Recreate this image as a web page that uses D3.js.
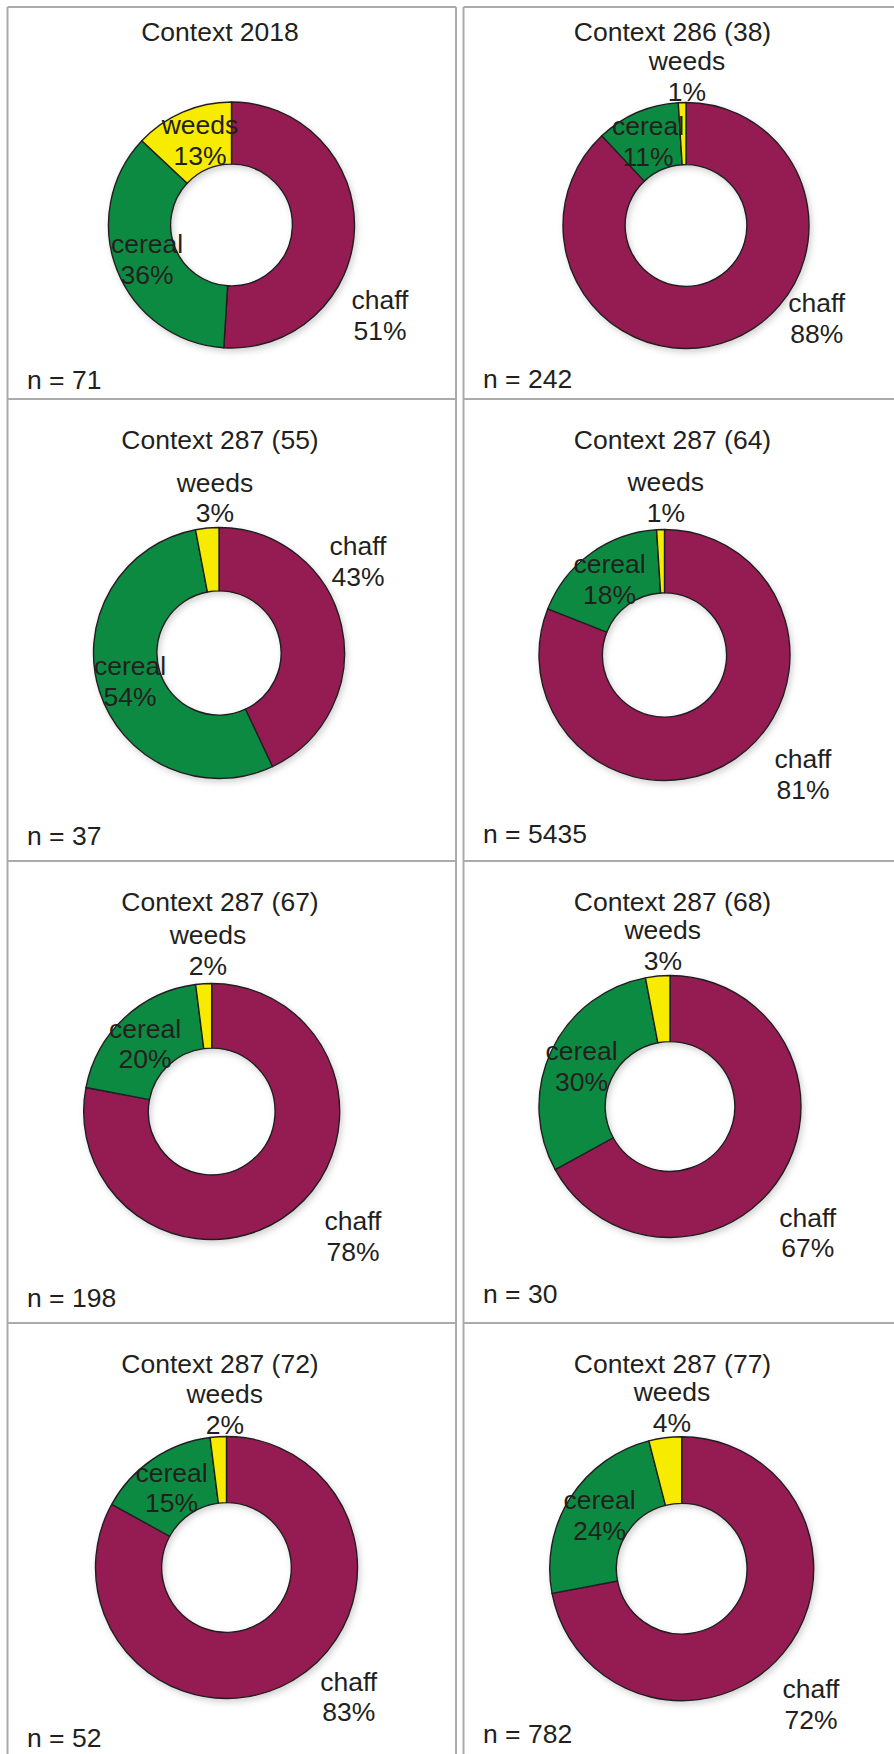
<!DOCTYPE html>
<html>
<head>
<meta charset="utf-8">
<script src="https://cdn.jsdelivr.net/npm/d3@7"></script>
<style>
  html, body { margin: 0; padding: 0; background: #fff; }
  svg { display: block; }
  text { font-family: "Liberation Sans", Arial, Helvetica, sans-serif; fill: #231f20; }
</style>
</head>
<body>
<svg id="chart" width="894" height="1754"></svg>
<script>
// ---------- DATA ----------
const titles = ["Context 2018", "Context 286 (38)", "Context 287 (55)", "Context 287 (64)",
                "Context 287 (67)", "Context 287 (68)", "Context 287 (72)", "Context 287 (77)"];
const categories = ["chaff", "cereal", "weeds"];
const chaff  = [51, 88, 43, 81, 78, 67, 83, 72];
const cereal = [36, 11, 54, 18, 20, 30, 15, 24];
const weeds  = [13,  1,  3,  1,  2,  3,  2,  4];
const nValues = [71, 242, 37, 5435, 198, 30, 52, 782];

// ---------- LAYOUT (positions / sizes only) ----------
const colX = [7.5, 463.5];
const colRight = [456, 900];
const rowY = [7, 399, 861, 1323];
const titleX = [220, 672.5];
const titleBaseline = [41, 449, 910.7, 1373];
const nX = [27, 483];
const nBaseline = [[389, 388], [845, 843], [1307, 1303], [1746.7, 1742.7]];
const donutCenter = [[231.5, 225], [686, 225.5], [219, 653], [664.5, 655],
                     [211.7, 1111.5], [670, 1106.5], [226.5, 1567.5], [681.7, 1568.7]];
const donutRadius = [123, 123, 125.5, 125.5, 128, 131, 131, 132];
// label anchors [chaff, cereal, weeds] : [x, first-line baseline]
const labelPos = [
  [[380, 309], [147, 253], [200, 134]],
  [[816.7, 312], [648, 135], [687, 70]],
  [[358, 555], [130, 675], [215, 491.7]],
  [[803, 768], [609.5, 573], [665.8, 491]],
  [[353, 1230], [145, 1037.7], [208, 944]],
  [[807.7, 1226.7], [581.5, 1060], [662.8, 939]],
  [[348.7, 1690.7], [171.5, 1481.7], [224.8, 1403.3]],
  [[811, 1698.3], [599.5, 1509.3], [672, 1401]]
];
const colors = d3.scaleOrdinal().domain(categories).range(["#951b52", "#098a43", "#f7ec00"]);
const fontSize = 26.5;
const lineGap = 30.5;

const svg = d3.select("#chart");

// shadow filter
const defs = svg.append("defs");
const f = defs.append("filter").attr("id", "shadow").attr("x", "-20%").attr("y", "-20%")
  .attr("width", "140%").attr("height", "140%");
f.append("feDropShadow").attr("dx", 2).attr("dy", 3).attr("stdDeviation", 3)
  .attr("flood-color", "#000").attr("flood-opacity", 0.18);

// ---------- GRID ----------
const grid = svg.append("g").attr("stroke", "#ababab").attr("stroke-width", 2).attr("fill", "none");
colX.forEach((x, c) => {
  grid.append("line").attr("x1", x).attr("x2", x).attr("y1", rowY[0]).attr("y2", 1754);
  if (c === 0) grid.append("line").attr("x1", colRight[0]).attr("x2", colRight[0]).attr("y1", rowY[0]).attr("y2", 1754);
  rowY.forEach(y => {
    grid.append("line").attr("x1", x).attr("x2", colRight[c]).attr("y1", y).attr("y2", y);
  });
});

// ---------- DONUTS ----------
const pie = d3.pie().sort(null).value(d => d.value).startAngle(0).endAngle(2 * Math.PI);

titles.forEach((title, i) => {
  const col = i % 2, row = Math.floor(i / 2);
  const values = [chaff[i], cereal[i], weeds[i]];
  const data = categories.map((c, k) => ({ cat: c, value: values[k] }));
  const [cx, cy] = donutCenter[i];
  const R = donutRadius[i];
  const arc = d3.arc().outerRadius(R).innerRadius(R * 0.495);

  const g = svg.append("g");
  const dg = g.append("g").attr("transform", `translate(${cx},${cy})`);
  dg.append("g").attr("filter", "url(#shadow)")
    .selectAll("path").data(pie(data)).join("path")
    .attr("d", arc)
    .attr("fill", d => colors(d.data.cat))
    .attr("stroke", "#231f20")
    .attr("stroke-width", 1.4)
    .attr("stroke-linejoin", "round");

  // title
  g.append("text").attr("x", titleX[col]).attr("y", titleBaseline[row])
    .attr("text-anchor", "middle").attr("font-size", fontSize).text(title);

  // slice labels
  data.forEach((d, k) => {
    const [lx, ly] = labelPos[i][k];
    const t = g.append("text").attr("text-anchor", "middle").attr("font-size", fontSize);
    t.append("tspan").attr("x", lx).attr("y", ly).text(d.cat);
    t.append("tspan").attr("x", lx).attr("y", ly + lineGap).text(d.value + "%");
  });

  // n label
  g.append("text").attr("x", nX[col]).attr("y", nBaseline[row][col])
    .attr("font-size", fontSize).text("n = " + nValues[i]);
});
</script>
</body>
</html>
